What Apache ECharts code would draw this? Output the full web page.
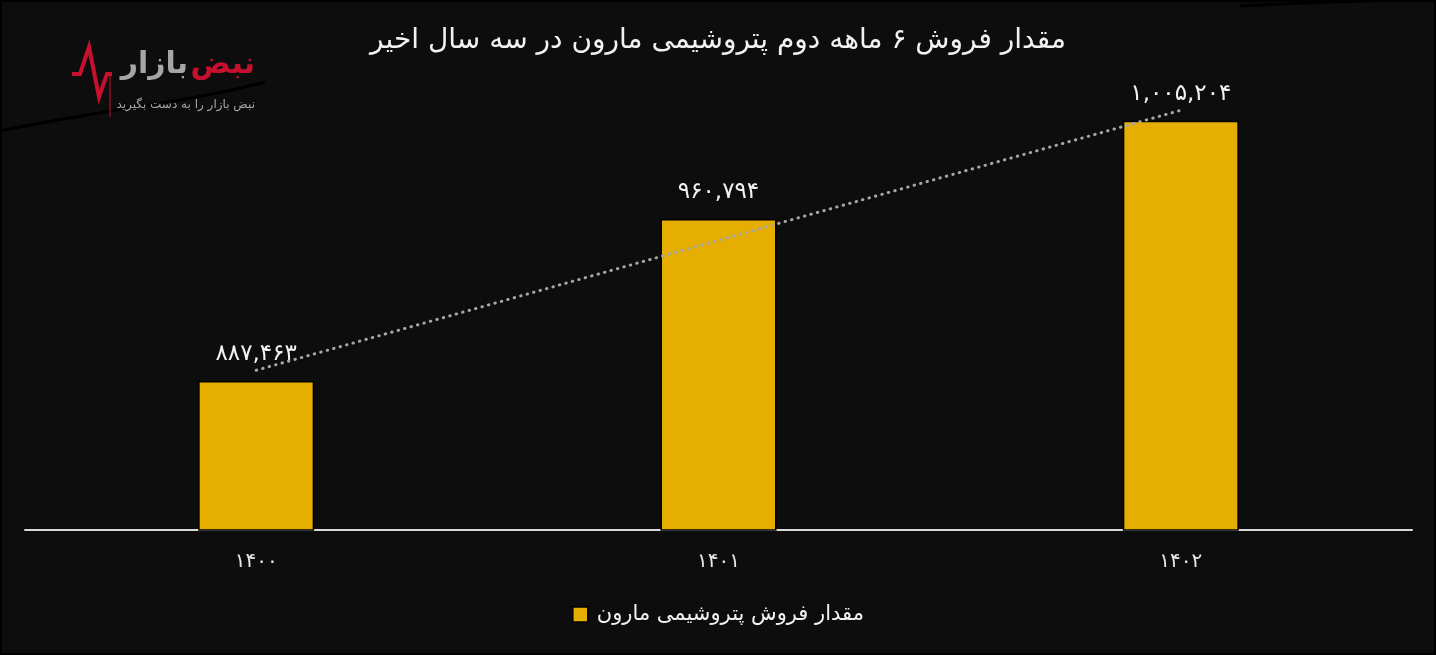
<!DOCTYPE html>
<html>
<head>
<meta charset="utf-8">
<script src="https://cdn.jsdelivr.net/npm/echarts@6/dist/echarts.min.js"></script>
<style>
html,body{margin:0;padding:0;background:#000;}
#c{width:1436px;height:655px;}
</style>
</head>
<body>
<div id="c"></div>
<script>
const categories = ['1400', '1401', '1402'];
const salesValues = [887463, 960794, 1005204];
const trendValues = [892300, 951150, 1010000];
const titleText = 'مقدار فروش ۶ ماهه دوم پتروشیمی مارون در سه سال اخیر';
const seriesName = 'مقدار فروش پتروشیمی مارون';

const faDigits = '۰۱۲۳۴۵۶۷۸۹';
function toFa(s) { return String(s).replace(/[0-9]/g, d => faDigits[+d]); }
function fmt(v) { return toFa(String(v).replace(/\B(?=(\d{3})+(?!\d))/g, ',')); }

const FONT = '"DejaVu Sans", "Noto Sans", sans-serif';
const chart = echarts.init(document.getElementById('c'));
chart.setOption({
  backgroundColor: '#0d0d0d',
  animation: false,
  title: {
    text: titleText, left: 'center', top: 22,
    textStyle: { color: '#f2f2f2', fontSize: 28, fontWeight: 'normal', fontFamily: FONT }
  },
  legend: {
    data: [seriesName], bottom: 25, left: 'center',
    itemWidth: 15, itemHeight: 15, icon: 'rect', itemGap: 10,
    itemStyle: { borderColor: '#000', borderWidth: 1.5 },
    textStyle: { color: '#f2f2f2', fontSize: 21, fontFamily: FONT, padding: [0, 0, 0, 4] }
  },
  grid: { left: 25, right: 24, top: 44, bottom: 125, containLabel: false },
  xAxis: {
    type: 'category', data: categories,
    axisLine: { lineStyle: { color: '#d9d9d9', width: 2 } },
    axisTick: { show: false },
    axisLabel: { color: '#e6e6e6', fontSize: 20, margin: 22, fontFamily: FONT, formatter: v => toFa(v) }
  },
  yAxis: {
    type: 'value', min: 820000, max: 1040000,
    show: false, splitLine: { show: false }
  },
  series: [
    {
      name: seriesName, type: 'bar', data: salesValues, barWidth: 116,
      itemStyle: { color: '#E6AE00', borderColor: '#000', borderWidth: 1.5 },
      label: {
        show: true, position: 'top', distance: 15, color: '#f2f2f2', fontSize: 23, fontFamily: FONT,
        formatter: p => fmt(p.value)
      }
    },
    {
      name: 'trend', type: 'line', data: trendValues, symbol: 'none', silent: true,
      lineStyle: { color: '#a6a6a6', width: 3, type: [0.5, 6.2], cap: 'round' }, z: 5
    }
  ],
  graphic: [
    { type: 'rect', shape: { x: 0, y: 0, width: 1436, height: 655 }, style: { fill: 'none', stroke: '#000', lineWidth: 4 }, silent: true },
    { type: 'bezierCurve', shape: { x1: 0, y1: 131, x2: 265, y2: 82, cpx1: 90, cpy1: 112, cpx2: 200, cpy2: 100 }, style: { stroke: '#000', lineWidth: 3, fill: 'none' } },
    { type: 'bezierCurve', shape: { x1: 1240, y1: 6, x2: 1436, y2: 0, cpx1: 1300, cpy1: 3, cpx2: 1360, cpy2: 0 }, style: { stroke: '#000', lineWidth: 3, fill: 'none' } },
    { type: 'polyline', shape: { points: [[72, 74], [80, 74], [89, 47], [99, 97], [107, 74], [112, 74]] }, style: { stroke: '#c8102e', lineWidth: 4, fill: 'none' } },
    { type: 'line', shape: { x1: 110, y1: 74, x2: 110, y2: 117 }, style: { stroke: '#c8102e', lineWidth: 1 } },
    { type: 'text', x: 255, y: 50, style: { text: 'نبض', fill: '#c8102e', font: 'bold 30px ' + FONT, align: 'right' } },
    { type: 'text', x: 188, y: 50, style: { text: 'بازار', fill: '#a6a6a6', font: 'bold 30px ' + FONT, align: 'right' } },
    { type: 'text', x: 255, y: 99, style: { text: 'نبض بازار را به دست بگیرید', fill: '#a6a6a6', font: '12px ' + FONT, align: 'right' } }
  ]
});
</script>
</body>
</html>
